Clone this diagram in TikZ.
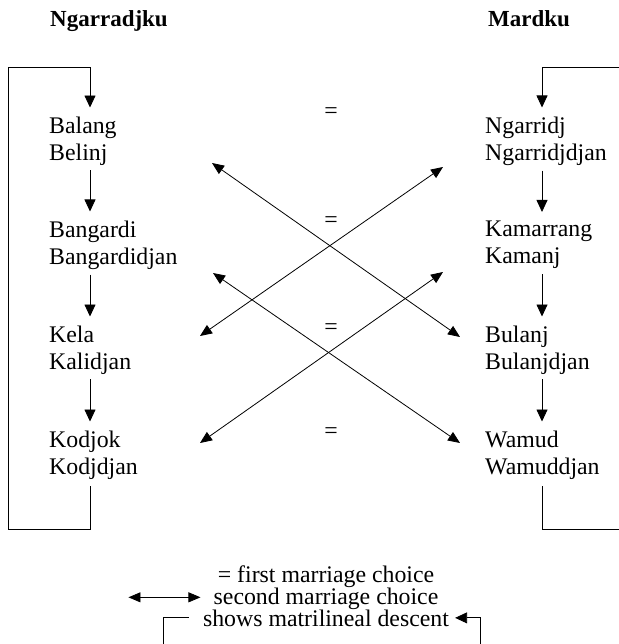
\documentclass[tikz,border=0pt]{standalone}
\usepackage{fontspec}
\setmainfont{Liberation Serif}
\usepackage{tikz}
\usetikzlibrary{arrows.meta,calc}
\newcommand{\sz}{\fontsize{23.8}{27}\selectfont}

\tikzset{
    section/.style={anchor=west,align=left,inner sep=0pt,font=\sz},
    moiety/.style={inner sep=0pt,font=\fontsize{23}{27}\selectfont\bfseries},
    legend/.style={anchor=base,inner sep=0pt,font=\sz},
    desc/.style={-{Triangle[width=11pt,length=12pt]},line width=0.8pt},
    choice/.style={{Triangle[width=10pt,length=12pt]}-{Triangle[width=10pt,length=12pt]},line width=0.8pt}
}

\begin{document}
\begin{tikzpicture}[x=1pt,y=-1pt]
    \useasboundingbox (0,0) rectangle (618,644);
    %moieties
    \node[moiety,anchor=base] (ngarradjku) at (109,27) {Ngarradjku};
    \node[moiety,anchor=base] (mardku) at (529,27) {Mardku};
    %subsections
    \node[section] (L1) at (49,141) {Balang\\Belinj};
    \node[section] (L2) at (49,245) {Bangardi\\Bangardidjan};
    \node[section] (L3) at (49,350) {Kela\\Kalidjan};
    \node[section] (L4) at (49,455) {Kodjok\\Kodjdjan};
    \node[section] (R1) at (485,141) {Ngarridj\\Ngarridjdjan};
    \node[section] (R2) at (485,245) {Kamarrang\\Kamanj};
    \node[section] (R3) at (485,350) {Bulanj\\Bulanjdjan};
    \node[section] (R4) at (485,455) {Wamud\\Wamuddjan};
    \node[font=\sz] (eq1) at (331,113) {=};
    \node[font=\sz] (eq2) at (331,222) {=};
    \node[font=\sz] (eq3) at (331,329) {=};
    \node[font=\sz] (eq4) at (331,433) {=};
    \coordinate (lx) at (90,0);
    \coordinate (rx) at (542,0);
    \coordinate (lb) at (8,529);
    \coordinate (lt) at (8,67);
    \coordinate (rb) at (621,529);
    \coordinate (rt) at (621,67);
    %matrilineal descent
    \draw[desc] ($(L1.south -| lx)+(0,5)$) -- ($(L2.north -| lx)+(0,-9)$);
    \draw[desc] ($(L2.south -| lx)+(0,5)$) -- ($(L3.north -| lx)+(0,-9)$);
    \draw[desc] ($(L3.south -| lx)+(0,5)$) -- ($(L4.north -| lx)+(0,-9)$);
    \draw[desc] ($(L4.south -| lx)+(0,7)$) |- (lb) -- (lt) -| ($(L1.north -| lx)+(0,-9)$);
    \draw[desc] ($(R1.south -| rx)+(0,5)$) -- ($(R2.north -| rx)+(0,-9)$);
    \draw[desc] ($(R2.south -| rx)+(0,5)$) -- ($(R3.north -| rx)+(0,-9)$);
    \draw[desc] ($(R3.south -| rx)+(0,5)$) -- ($(R4.north -| rx)+(0,-9)$);
    \draw[desc] ($(R4.south -| rx)+(0,7)$) |- (rb) -- (rt) -| ($(R1.north -| rx)+(0,-9)$);
    %second marriage choice
    \draw[choice] ($(L1.west)+(163,22)$) -- ($(R3.west)+(-25,-13)$);
    \draw[choice] ($(L2.west)+(164,28)$) -- ($(R4.west)+(-25,-12)$);
    \draw[choice] ($(L3.west)+(151,-14)$) -- ($(R1.west)+(-42,26)$);
    \draw[choice] ($(L4.west)+(151,-12)$) -- ($(R2.west)+(-42,27)$);
    %legend
    \node[legend] (leg1) at (326,582) {= first marriage choice};
    \node[legend] (leg2) at (326,604) {second marriage choice};
    \node[legend] (leg3) at (326,626) {shows matrilineal descent};
    \coordinate (dl) at (163,647);
    \coordinate (dr) at (480,647);
    \draw[choice] ($(leg2.west)+(-13,-1)$) -- ($(leg2.west)+(-85,-1)$);
    \draw[line width=0.8pt] ($(leg3.west)+(-14,0)$) -| (dl);
    \draw[desc] (dr) |- ($(leg3.east)+(6,0)$);
\end{tikzpicture}
\end{document}
